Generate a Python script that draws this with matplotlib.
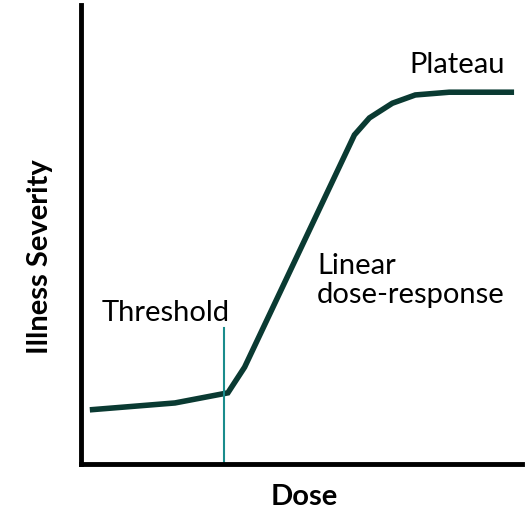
import matplotlib
matplotlib.use("Agg")
import matplotlib.pyplot as plt

dose = [2.0, 21.3, 33.3, 37.1, 62.0, 65.4, 70.6, 75.8, 83.5, 98.2]
severity = [11.8, 13.3, 15.5, 21.1, 71.7, 75.4, 78.6, 80.4, 81.0, 81.0]
threshold_dose = 32.4
threshold_top = 29.6

plt.rcParams['font.family'] = ['Lato', 'DejaVu Sans']

fig = plt.figure(figsize=(5.28, 5.11), dpi=100)
ax = fig.add_axes([81/528, 1-464/511, 441/528, 459/511])
ax.set_xlim(0, 100)
ax.set_ylim(0, 100)

ax.plot(dose, severity, color='#0a3a32', lw=4, solid_joinstyle='miter', solid_capstyle='butt')
ax.plot([threshold_dose, threshold_dose], [0, threshold_top], color='#1a8c8c', lw=1.5)

for s in ['top', 'right']:
    ax.spines[s].set_visible(False)
for s in ['left', 'bottom']:
    ax.spines[s].set_linewidth(3.5)
    ax.spines[s].set_color('black')
ax.set_xticks([])
ax.set_yticks([])

ax.text(19.3, 32.8, 'Threshold', fontsize=21, ha='center', va='center')
ax.text(53.5, 40.0, 'Linear\ndose-response', fontsize=21, ha='left', va='center', linespacing=1.15)
ax.text(74.5, 87.0, 'Plateau', fontsize=21, ha='left', va='center')

fig.text(304/528, 1-497/511, 'Dose', fontsize=21, fontweight='bold', ha='center', va='center')
fig.text(40/528, 1-257/511, 'Illness Severity', fontsize=21, fontweight='bold', ha='center', va='center', rotation=90)

fig.savefig('out.png', dpi=100)
